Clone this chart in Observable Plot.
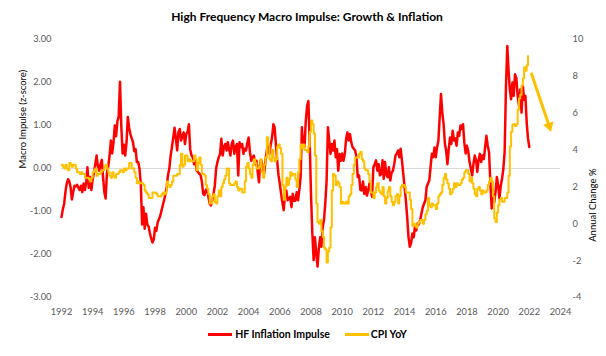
<!DOCTYPE html>
<html><head><meta charset="utf-8">
<script src="https://cdn.jsdelivr.net/npm/d3@7"></script>
<script src="https://cdn.jsdelivr.net/npm/@observablehq/plot@0.6"></script>
<style>
body{margin:0;background:#fff;font-family:Lato,"Open Sans",sans-serif;width:606px;}
#title{height:28px;box-sizing:border-box;padding-top:10px;padding-left:8px;text-align:center;font-weight:bold;font-size:12px;line-height:14px;color:#000;}
#chart{height:292px;}
#legend{height:28px;box-sizing:border-box;padding-left:9px;display:flex;justify-content:center;align-items:center;font-weight:bold;font-size:10.5px;line-height:14px;color:#000;}
#legend .sw{display:inline-block;width:24px;height:3px;margin-right:3px;}
</style></head><body>
<div id="title">High Frequency Macro Impulse: Growth &amp; Inflation</div>
<div id="chart"></div>
<div id="legend"><span class="sw" style="background:#FF0000"></span><span>HF Inflation Impulse</span><span class="sw" style="background:#FFC000;margin-left:15px;margin-right:2px"></span><span>CPI YoY</span></div>
<script>
// Series start: July 1992, monthly
const seriesStart = [1992, 7];

// HF Inflation Impulse (z-score), monthly from Jul 1992
const hfImpulse = [
 -1.13,-0.95,-0.82,-0.55,-0.35,-0.25,-0.3,-0.45,-0.72,-0.55,-0.4,-0.42,
 -0.38,-0.45,-0.5,-0.4,-0.55,-0.35,-0.5,-0.3,0.03,-0.45,-0.2,-0.5,
 -0.25,-0.1,0.1,0.3,0.05,-0.05,0.1,0.2,-0.2,-0.55,-0.7,-0.1,
 0.05,0.3,0.65,0.35,0.6,1.0,0.75,1.1,1.2,2.02,1.0,0.35,
 0.55,0.3,0.6,1.2,0.95,0.8,0.7,0.6,0.4,0.45,0.15,0.15,
 0.0,-0.35,-1.3,-0.9,-1.4,-1.05,-1.3,-1.35,-1.5,-1.62,-1.72,-1.65,
 -1.38,-1.45,-1.25,-1.18,-1.1,-0.97,-0.85,-0.72,-0.6,-0.43,-0.15,0.0,
 0.3,0.5,0.72,0.95,0.7,0.42,0.85,0.92,0.65,0.75,0.84,0.57,
 0.8,0.85,1.03,0.45,0.3,0.26,0.1,0.18,-0.05,-0.08,-0.12,-0.15,
 -0.3,-0.59,-0.62,-0.5,-0.47,-0.66,-0.82,-0.86,-0.75,-0.59,-0.4,0.0,
 0.15,0.26,0.34,0.69,0.3,0.5,0.57,0.42,0.61,0.45,0.3,0.57,
 0.65,0.34,0.5,0.57,-0.16,0.61,0.5,0.57,0.34,0.46,0.42,0.6,
 0.72,0.38,0.18,0.25,0.3,0.1,0.18,-0.1,-0.32,0.18,0.18,-0.05,
 -0.12,0.2,0.42,0.57,0.34,0.55,0.72,1.03,0.96,0.57,0.18,-0.16,
 -0.35,-0.59,-0.8,-0.97,-0.59,-0.51,-0.74,-0.7,-0.66,-0.9,-0.59,-0.75,
 -0.75,-0.55,-0.74,-0.5,-0.2,0.96,0.5,0.5,1.11,1.45,1.57,0.6,
 -0.6,-1.5,-2.13,-1.6,-1.98,-2.28,-1.85,-1.6,-1.82,-1.36,-1.2,-0.8,
 -0.3,0.96,0.65,0.34,0.57,0.42,0.65,0.26,0.45,-0.05,0.34,0.18,
 0.35,0.18,0.34,0.69,0.84,0.65,0.8,0.6,0.5,0.46,0.42,0.26,
 -0.2,-0.16,-0.5,-0.51,-0.3,-0.59,-0.43,-0.63,-0.51,-0.35,-0.5,-0.66,
 0.03,0.1,0.19,-0.05,0.1,-0.16,-0.12,0.19,-0.24,0.15,-0.15,-0.2,
 0.03,-0.28,-0.1,-0.05,0.1,0.3,0.35,0.42,0.26,0.46,0.19,-0.12,
 -0.43,-0.74,-1.13,-1.59,-1.82,-1.74,-1.51,-1.6,-1.36,-1.44,-1.28,-1.3,
 -1.2,-1.05,-0.9,-0.82,-0.74,-0.43,-0.35,-0.28,0.03,0.34,0.26,0.49,
 0.26,0.49,0.65,1.19,1.73,1.3,1.03,0.57,0.42,0.1,0.45,0.72,
 0.57,0.88,0.65,0.7,0.53,0.84,0.76,1.0,0.92,1.03,0.6,0.35,
 0.53,0.4,0.15,0.0,-0.16,0.1,0.3,0.19,-0.08,0.2,0.34,0.15,
 0.3,0.22,0.5,0.76,0.53,0.38,-0.32,-0.93,-0.6,-0.78,-0.55,-0.2,
 -0.39,-0.7,-0.4,-0.24,0.0,0.4,1.92,2.85,2.3,1.84,1.61,2.0,
 1.69,2.19,2.1,1.7,1.46,1.84,1.3,1.92,1.6,1.69,1.07,0.7,
 0.5
];

// CPI YoY (%), monthly from Jul 1992 (right axis)
const cpiYoY = [
 3.2,3.1,3.0,3.2,3.0,2.9,
 3.3,3.2,3.1,3.2,3.2,3.0,2.8,2.8,2.7,2.8,2.7,2.7,
 2.5,2.5,2.5,2.4,2.3,2.5,2.8,2.9,3.0,2.6,2.7,2.7,
 2.8,2.9,2.9,3.1,3.2,3.0,2.8,2.6,2.5,2.8,2.6,2.5,
 2.7,2.7,2.8,2.9,2.9,2.8,3.0,2.9,3.0,3.0,3.3,3.3,
 3.0,3.0,2.8,2.5,2.2,2.3,2.2,2.2,2.2,2.1,1.8,1.7,
 1.6,1.4,1.4,1.4,1.7,1.7,1.7,1.6,1.5,1.5,1.5,1.6,
 1.7,1.6,1.7,2.3,2.1,2.0,2.1,2.3,2.6,2.6,2.6,2.7,
 2.7,3.2,3.8,3.1,3.2,3.7,3.7,3.4,3.5,3.4,3.4,3.4,
 3.7,3.5,2.9,3.3,3.6,3.2,2.7,2.7,2.6,2.1,1.9,1.6,
 1.1,1.1,1.5,1.6,1.2,1.1,1.5,1.8,1.5,2.0,2.2,2.4,
 2.6,3.0,3.0,2.2,2.1,2.1,2.1,2.2,2.3,2.0,1.8,1.9,
 1.9,1.7,1.7,2.3,3.1,3.3,3.0,2.7,2.5,3.2,3.5,3.3,
 3.0,3.0,3.1,3.5,2.8,2.5,3.2,3.6,4.7,4.3,3.5,3.4,
 4.0,3.6,3.4,3.5,4.2,4.3,4.1,3.8,2.1,1.3,2.0,2.5,
 2.1,2.4,2.8,2.6,2.7,2.7,2.4,2.0,2.8,3.5,4.3,4.1,
 4.3,4.0,4.0,3.9,4.2,5.0,5.6,5.4,4.9,3.7,1.1,0.1,
 0.0,0.2,-0.4,-0.7,-1.3,-1.4,-2.1,-1.5,-1.3,-0.2,1.8,2.7,
 2.6,2.1,2.3,2.2,2.0,1.1,1.2,1.1,1.1,1.2,1.1,1.5,
 1.6,2.1,2.7,3.2,3.6,3.6,3.6,3.8,3.9,3.5,3.4,3.0,
 2.9,2.9,2.7,2.3,1.7,1.7,1.4,1.7,2.0,2.2,1.8,1.7,
 1.6,2.0,1.5,1.1,1.4,1.8,2.0,1.5,1.2,1.0,1.2,1.5,
 1.6,1.1,1.5,2.0,2.1,2.1,2.0,1.7,1.7,1.7,1.3,0.8,
 -0.1,0.0,-0.1,-0.2,0.0,0.1,0.2,0.2,0.0,0.2,0.5,0.7,
 1.4,1.0,0.9,1.1,1.0,1.0,0.8,1.1,1.5,1.6,1.7,2.1,
 2.5,2.7,2.4,2.2,1.9,1.6,1.7,1.9,2.2,2.0,2.2,2.1,
 2.1,2.2,2.4,2.5,2.8,2.9,2.9,2.7,2.3,2.5,2.2,1.9,
 1.6,1.5,1.9,2.0,1.8,1.6,1.8,1.7,1.7,1.8,2.1,2.3,
 2.5,2.3,1.5,0.3,0.1,0.6,1.0,1.3,1.4,1.2,1.2,1.4,
 1.4,1.7,2.6,4.2,5.0,5.4,5.4,5.3,5.4,6.2,6.8,7.0,
 7.5,7.9,8.5,8.3,8.6,9.1
];

// Axis ticks (x ticks fall in July of each labelled year)
const xTickYears = [1992,1994,1996,1998,2000,2002,2004,2006,2008,2010,2012,2014,2016,2018,2020,2022,2024];
const leftTicks = [-3,-2,-1,0,1,2,3];
const rightTicks = [-4,-2,0,2,4,6,8,10];
const leftDomain = [-3, 3];
const rightDomain = [-4, 10];

// Annotation arrow (date, CPI %)
const arrowFrom = ["2022-08-15", 8.2];
const arrowTo = ["2023-10-10", 5.3];

const series = ["HF Inflation Impulse", "CPI YoY"];
const colors = ["#FF0000", "#FFC000"];

// --- build ---
const start = new Date(Date.UTC(seriesStart[0], seriesStart[1] - 1, 1));
const monthDate = i => d3.utcMonth.offset(start, i);
const hfRows = hfImpulse.map((v, i) => ({date: monthDate(i), value: v}));
const cpiRows = cpiYoY.map((v, i) => ({date: monthDate(i), value: v}));
const xTicks = xTickYears.map(y => new Date(Date.UTC(y, 6, 1)));

// map right-axis values onto left scale
const k = (leftDomain[1] - leftDomain[0]) / (rightDomain[1] - rightDomain[0]);
const toLeft = v => leftDomain[0] + (v - rightDomain[0]) * k;
const fromLeft = v => rightDomain[0] + (v - leftDomain[0]) / k;

const arrowRow = {
  x1: new Date(arrowFrom[0]), y1: toLeft(arrowFrom[1]),
  x2: new Date(arrowTo[0]), y2: toLeft(arrowTo[1])
};

const chart = Plot.plot({
  width: 606, height: 292,
  marginLeft: 61, marginRight: 46, marginTop: 11, marginBottom: 23,
  style: {fontFamily: "Lato, 'Open Sans', sans-serif", fontSize: "9.3px", color: "#595959", background: "#fff"},
  x: {type: "utc", domain: [xTicks[0], xTicks[xTicks.length - 1]]},
  y: {domain: leftDomain},
  marks: [
    Plot.ruleY([0], {stroke: "#d9d9d9", strokeWidth: 1}),
    Plot.axisY(leftTicks, {anchor: "left", tickSize: 0, tickPadding: 10, tickFormat: d => d.toFixed(2), label: null}),
    Plot.axisY(rightTicks.map(toLeft), {anchor: "right", tickSize: 0, tickPadding: 12, tickFormat: d => String(Math.round(fromLeft(d))), label: null}),
    Plot.axisX(xTicks, {anchor: "bottom", tickSize: 0, tickPadding: 11, tickFormat: d3.utcFormat("%Y"), label: null}),
    Plot.line(hfRows, {x: "date", y: "value", stroke: colors[0], strokeWidth: 2.5, strokeLinejoin: "round"}),
    Plot.line(cpiRows, {x: "date", y: d => toLeft(d.value), stroke: colors[1], strokeWidth: 2, curve: "step-after"}),
    Plot.link([arrowRow], {x1: "x1", y1: "y1", x2: "x2", y2: "y2", stroke: colors[1], strokeWidth: 3}),
    Plot.dot([arrowRow], {x: "x2", y: "y2", symbol: "triangle", r: 4, fill: colors[1], stroke: "none", rotate: 162}),
    Plot.text(["Macro Impulse (z-score)"], {frameAnchor: "left", rotate: -90, dx: -39, fill: "#000", fontSize: 9.5}),
    Plot.text(["Annual Change %"], {frameAnchor: "right", rotate: -90, dx: 32, fill: "#000", fontSize: 9.5})
  ]
});
document.getElementById("chart").appendChild(chart);
</script>
</body></html>
